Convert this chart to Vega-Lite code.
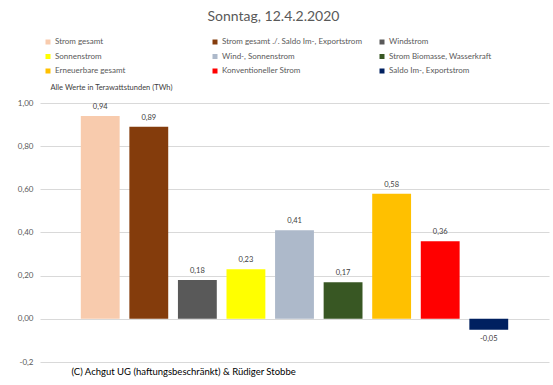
{
  "$schema": "https://vega.github.io/schema/vega-lite/v6.json",
  "width": 509,
  "height": 259,
  "autosize": "none",
  "padding": {"left": 40, "top": 103, "right": 4, "bottom": 23},
  "background": "white",
  "config": {
    "locale": {"number": {"decimal": ",", "thousands": ".", "grouping": [3], "currency": ["", " €"], "minus": "-"}},
    "view": {"stroke": null},
    "font": "Lato"
  },
  "title": {
    "text": "Sonntag, 12.4.2.2020",
    "anchor": "middle",
    "frame": "group",
    "dx": -21,
    "fontSize": 14,
    "fontWeight": "normal",
    "color": "#595959",
    "offset": 14
  },
  "data": {
    "values": [
      {"kategorie": "Strom gesamt", "wert": 0.94},
      {"kategorie": "Strom gesamt ./. Saldo Im-, Exportstrom", "wert": 0.89},
      {"kategorie": "Windstrom", "wert": 0.18},
      {"kategorie": "Sonnenstrom", "wert": 0.23},
      {"kategorie": "Wind-, Sonnenstrom", "wert": 0.41},
      {"kategorie": "Strom Biomasse, Wasserkraft", "wert": 0.17},
      {"kategorie": "Erneuerbare gesamt", "wert": 0.58},
      {"kategorie": "Konventioneller Strom", "wert": 0.36},
      {"kategorie": "Saldo Im-, Exportstrom", "wert": -0.05}
    ]
  },
  "encoding": {
    "x": {
      "field": "kategorie",
      "type": "nominal",
      "sort": null,
      "scale": {"paddingInner": 0.2, "paddingOuter": 0.84},
      "axis": {
        "labels": false,
        "ticks": false,
        "domain": false,
        "grid": false,
        "title": "(C) Achgut UG (haftungsbeschränkt) & Rüdiger Stobbe",
        "titleX": 31,
        "titleY": 12,
        "titleAlign": "left",
        "titleAnchor": "start",
        "titleBaseline": "alphabetic",
        "titleFontSize": 9.5,
        "titleFontWeight": "normal",
        "titleColor": "#000000"
      }
    },
    "y": {
      "field": "wert",
      "type": "quantitative",
      "scale": {"domain": [-0.2, 1.0], "nice": false, "zero": false},
      "axis": {
        "values": [-0.2, 0, 0.2, 0.4, 0.6, 0.8, 1.0],
        "format": ".2f",
        "labelExpr": "datum.value < 0 ? '-0,2' : datum.label",
        "ticks": false,
        "domain": false,
        "gridColor": "#D9D9D9",
        "gridWidth": 1,
        "labelFontSize": 8,
        "labelColor": "#595959",
        "labelPadding": 7,
        "title": "Alle Werte in Terawattstunden (TWh)",
        "titleAngle": 0,
        "titleX": 10,
        "titleY": -14,
        "titleAlign": "left",
        "titleBaseline": "alphabetic",
        "titleFontSize": 7.5,
        "titleFontWeight": "normal",
        "titleColor": "#404040"
      }
    }
  },
  "layer": [
    {
      "mark": {"type": "bar"},
      "encoding": {
        "color": {
          "field": "kategorie",
          "type": "nominal",
          "scale": {
            "domain": ["Strom gesamt", "Strom gesamt ./. Saldo Im-, Exportstrom", "Windstrom", "Sonnenstrom", "Wind-, Sonnenstrom", "Strom Biomasse, Wasserkraft", "Erneuerbare gesamt", "Konventioneller Strom", "Saldo Im-, Exportstrom"],
            "range": ["#F8CBAD", "#843C0C", "#595959", "#FFFF00", "#ADB9CA", "#385723", "#FFC000", "#FF0000", "#002060"]
          },
          "legend": {
            "title": null,
            "orient": "none",
            "direction": "horizontal",
            "legendX": 4,
            "legendY": -65,
            "columns": 3,
            "gridAlign": "all",
            "columnPadding": 16,
            "rowPadding": 6.5,
            "symbolType": "square",
            "symbolSize": 25,
            "symbolStrokeWidth": 0,
            "labelFontSize": 8,
            "labelColor": "#595959",
            "labelOffset": 3
          }
        }
      }
    },
    {
      "transform": [{"filter": "datum.wert >= 0"}],
      "mark": {"type": "text", "baseline": "bottom", "dy": -5, "fontSize": 7.5, "color": "#404040"},
      "encoding": {"text": {"field": "wert", "type": "quantitative", "format": ".2f"}}
    },
    {
      "transform": [{"filter": "datum.wert < 0"}],
      "mark": {"type": "text", "baseline": "top", "dy": 5, "fontSize": 7.5, "color": "#404040"},
      "encoding": {"text": {"field": "wert", "type": "quantitative", "format": ".2f"}}
    }
  ]
}
